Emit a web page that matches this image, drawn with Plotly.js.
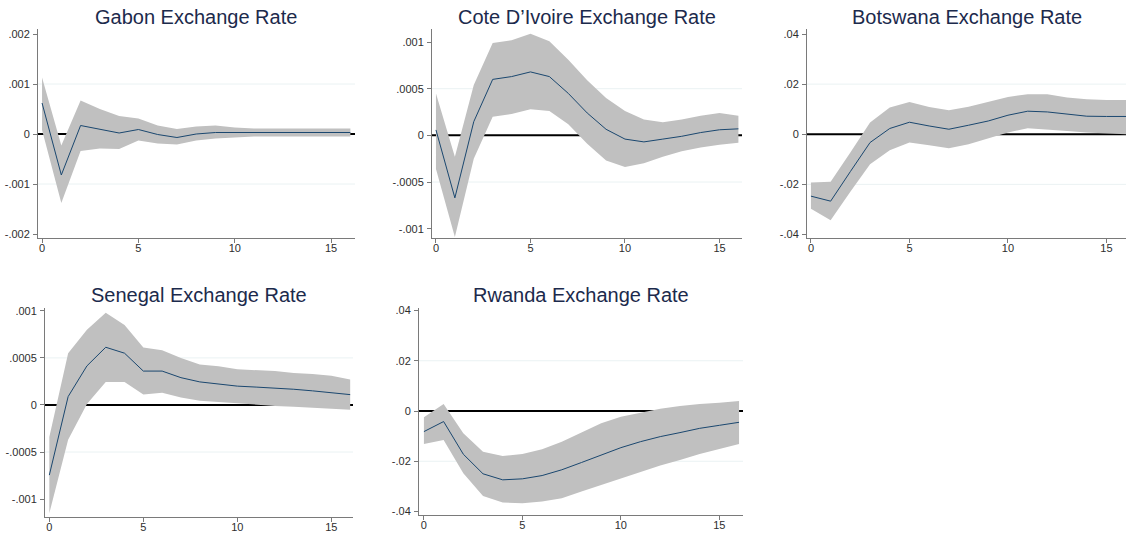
<!DOCTYPE html>
<html>
<head>
<meta charset="utf-8">
<script src="https://cdn.plot.ly/plotly-3.0.1.min.js"></script>
<style>html,body{margin:0;padding:0;background:#fff;}#chart{width:1126px;height:535px;}</style>
</head>
<body>
<div id="chart"></div>
<script>
// Horizon (steps)
const steps = [0,1,2,3,4,5,6,7,8,9,10,11,12,13,14,15,16];

// Panel titles
const titles = ["Gabon Exchange Rate","Cote D\u2019Ivoire Exchange Rate","Botswana Exchange Rate","Senegal Exchange Rate","Rwanda Exchange Rate"];

// Gabon
const gabonIrf = [0.00062,-0.00082,0.00017,0.00010,0.00002,0.00009,-0.00001,-0.00007,0.00000,0.00003,0.00003,0.00003,0.00003,0.00003,0.00003,0.00003,0.00003];
const gabonLo  = [0.00008,-0.00138,-0.00034,-0.00029,-0.00030,-0.00013,-0.00019,-0.00021,-0.00013,-0.00009,-0.00007,-0.00005,-0.00005,-0.00005,-0.00005,-0.00005,-0.00005];
const gabonHi  = [0.00113,-0.00023,0.00067,0.00050,0.00036,0.00031,0.00017,0.00010,0.00015,0.00017,0.00013,0.00011,0.00011,0.00011,0.00011,0.00011,0.00011];

// Cote D'Ivoire
const coteIrf = [0.000058,-0.00067,0.000147,0.00060,0.00063,0.00068,0.00063,0.00045,0.00024,0.000065,-0.00004,-0.00007,-0.00004,-0.00001,0.00003,0.00006,0.00007];
const coteLo  = [-0.00036,-0.00109,-0.00025,0.00020,0.00023,0.00028,0.00026,0.00012,-0.00009,-0.00027,-0.00034,-0.00030,-0.00023,-0.00017,-0.00013,-0.00010,-0.00008];
const coteHi  = [0.00045,-0.00023,0.00054,0.00099,0.00102,0.00109,0.00101,0.00081,0.00059,0.00040,0.00026,0.00017,0.00014,0.00017,0.00021,0.00024,0.00021];

// Botswana
const botsIrf = [-0.0247,-0.0267,-0.0149,-0.0033,0.0023,0.0048,0.0033,0.0020,0.0036,0.0053,0.0076,0.0092,0.0089,0.0080,0.0072,0.0071,0.0071];
const botsLo  = [-0.0297,-0.0343,-0.0229,-0.0120,-0.0064,-0.0033,-0.0044,-0.0056,-0.0040,-0.0017,0.0007,0.0024,0.0020,0.0013,0.0007,0.0003,0.0000];
const botsHi  = [-0.0193,-0.0190,-0.0073,0.0047,0.0107,0.0129,0.0109,0.0096,0.0110,0.0129,0.0149,0.0160,0.0160,0.0147,0.0140,0.0137,0.0137];

// Senegal
const senIrf = [-0.000745,0.000089,0.000415,0.000613,0.00055,0.00036,0.00036,0.00029,0.000245,0.000223,0.00020,0.00019,0.00018,0.000167,0.00015,0.00013,0.00011];
const senLo  = [-0.00115,-0.00037,0.00001,0.000245,0.000245,0.00011,0.00013,0.00008,0.000046,0.00003,0.00002,0.00000,-0.00001,-0.00002,-0.00003,-0.00004,-0.00005];
const senHi  = [-0.00034,0.00055,0.00080,0.00098,0.00085,0.00061,0.00058,0.00050,0.00043,0.00041,0.00038,0.00037,0.00036,0.00034,0.00033,0.00031,0.00027];

// Rwanda
const rwaIrf = [-0.0082,-0.0042,-0.0172,-0.0250,-0.0274,-0.0270,-0.0257,-0.0234,-0.0205,-0.0175,-0.0146,-0.0122,-0.0102,-0.0086,-0.0069,-0.0057,-0.0045];
const rwaLo  = [-0.0131,-0.0115,-0.0248,-0.0338,-0.0364,-0.0367,-0.0360,-0.0347,-0.0320,-0.0294,-0.0268,-0.0241,-0.0217,-0.0195,-0.0171,-0.0151,-0.0131];
const rwaHi  = [-0.0025,0.0028,-0.0089,-0.0162,-0.0179,-0.0171,-0.0152,-0.0122,-0.0086,-0.0049,-0.0023,-0.0007,0.0009,0.0020,0.0028,0.0033,0.0040];

// Y tick values / labels
const smallTicks = [-0.002,-0.001,0,0.001,0.002];
const smallText  = ["-.002","-.001","0",".001",".002"];
const halfTicks  = [-0.001,-0.0005,0,0.0005,0.001];
const halfText   = ["-.001","-.0005","0",".0005",".001"];
const bigTicks   = [-0.04,-0.02,0,0.02,0.04];
const bigText    = ["-.04","-.02","0",".02",".04"];
const xTicks     = [0,5,10,15];

const W = 1126, H = 535;
const series = [
  {irf: gabonIrf, lo: gabonLo, hi: gabonHi, tv: smallTicks, tt: smallText,
   px: [38,355], py: [29,238], xr: [-0.21,16.24], yr: [-0.00208,0.0021]},
  {irf: coteIrf, lo: coteLo, hi: coteHi, tv: halfTicks, tt: halfText,
   px: [432,742], py: [29,238], xr: [-0.21,16.19], yr: [-0.0011,0.00114]},
  {irf: botsIrf, lo: botsLo, hi: botsHi, tv: bigTicks, tt: bigText,
   px: [807,1126], py: [29,238], xr: [-0.2,15.99], yr: [-0.0414,0.042]},
  {irf: senIrf, lo: senLo, hi: senHi, tv: halfTicks, tt: halfText,
   px: [45,353], py: [308,517], xr: [-0.23,16.15], yr: [-0.00119,0.00103]},
  {irf: rwaIrf, lo: rwaLo, hi: rwaHi, tv: bigTicks, tt: bigText,
   px: [419,743], py: [308,515], xr: [-0.25,16.2], yr: [-0.0414,0.041]}
];

const font = "Liberation Sans, Arial, sans-serif";
const data = [];
const layout = {
  width: W, height: H,
  margin: {l:0, r:0, t:0, b:0},
  paper_bgcolor: "#ffffff", plot_bgcolor: "#ffffff",
  showlegend: false,
  font: {family: font, size: 11, color: "#333333"},
  shapes: [], annotations: []
};

series.forEach((s, i) => {
  const n = i === 0 ? "" : String(i + 1);
  const xa = "x" + n, ya = "y" + n;
  data.push({x: steps, y: s.hi, xaxis: xa, yaxis: ya, type: "scatter", mode: "lines",
             line: {width: 0, color: "rgba(0,0,0,0)"}, hoverinfo: "skip"});
  data.push({x: steps, y: s.lo, xaxis: xa, yaxis: ya, type: "scatter", mode: "lines",
             line: {width: 0, color: "rgba(0,0,0,0)"}, fill: "tonexty", fillcolor: "#c0c0c0", hoverinfo: "skip"});
  data.push({x: steps, y: s.irf, xaxis: xa, yaxis: ya, type: "scatter", mode: "lines",
             line: {width: 1, color: "#1a476f"}});
  const xd = [s.px[0] / W, s.px[1] / W];
  const yd = [1 - s.py[1] / H, 1 - s.py[0] / H];
  layout["xaxis" + n] = {
    domain: xd, range: s.xr, anchor: ya, showgrid: false, zeroline: false,
    showline: true, linecolor: "#7a7a7a", linewidth: 1,
    ticks: "outside", ticklen: 4, tickcolor: "#7a7a7a", tickvals: xTicks,
    ticklabelstandoff: -4,
    tickfont: {family: font, size: 11, color: "#2e2e2e"}, fixedrange: true
  };
  layout["yaxis" + n] = {
    domain: yd, range: s.yr, anchor: xa, showgrid: false, zeroline: false,
    showline: true, linecolor: "#7a7a7a", linewidth: 1,
    ticks: "outside", ticklen: 4, tickcolor: "#7a7a7a",
    tickvals: s.tv, ticktext: s.tt, ticklabelstandoff: 1,
    tickfont: {family: font, size: 11, color: "#2e2e2e"}, fixedrange: true
  };
  // light grid lines at interior ticks (Stata style: none at axis extremes)
  s.tv.slice(1, -1).forEach(v => {
    if (v !== 0) {
      layout.shapes.push({type: "line", xref: xa + " domain", yref: ya, x0: 0, x1: 1, y0: v, y1: v,
                          layer: "below", line: {color: "#eaf2f3", width: 1}});
    }
  });
  // zero reference line
  layout.shapes.push({type: "line", xref: xa + " domain", yref: ya, x0: 0, x1: 1, y0: 0, y1: 0,
                      layer: "below", line: {color: "#000000", width: 2}});
  layout.annotations.push({
    text: titles[i], xref: "paper", yref: "paper",
    x: (xd[0] + xd[1]) / 2, y: 1 - ((i < 3 ? 17 : 295) / H),
    xanchor: "center", yanchor: "middle", showarrow: false,
    font: {family: font, size: 20, color: "#1c2a4c"}
  });
});

Plotly.newPlot("chart", data, layout, {displayModeBar: false, staticPlot: true});
</script>
</body>
</html>
